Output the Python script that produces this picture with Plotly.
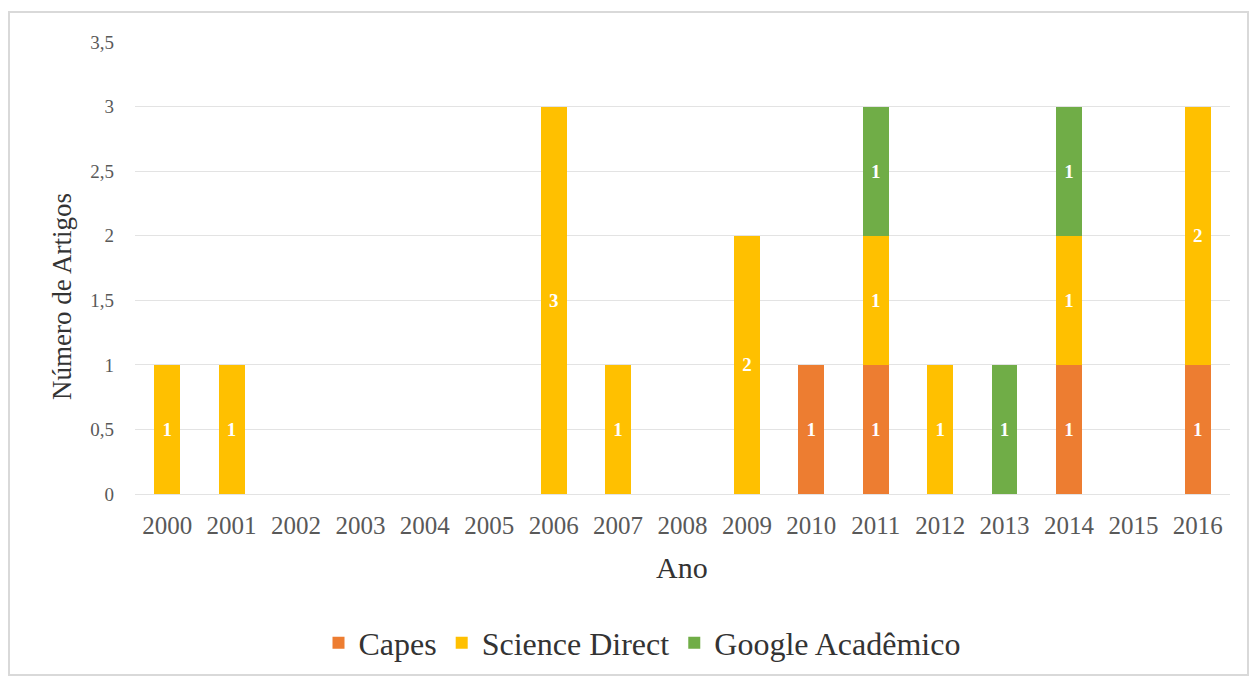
import plotly.graph_objects as go

anos = ["2000", "2001", "2002", "2003", "2004", "2005", "2006", "2007", "2008",
        "2009", "2010", "2011", "2012", "2013", "2014", "2015", "2016"]
capes = [None, None, None, None, None, None, None, None, None,
         None, 1, 1, None, None, 1, None, 1]
science_direct = [1, 1, None, None, None, None, 3, 1, None,
                  2, None, 1, 1, None, 1, None, 2]
google_academico = [None, None, None, None, None, None, None, None, None,
                    None, None, 1, None, 1, 1, None, None]
y_ticks = [0, 0.5, 1, 1.5, 2, 2.5, 3, 3.5]

W, H = 1250, 677
L, R, T, B = 135, 20, 42, 183
pw, ph = W - L - R, H - T - B


def px(x):
    return (x - L) / pw


def py(y):
    return (H - B - y) / ph


FONT = "'Liberation Serif', 'Times New Roman', 'DejaVu Serif', serif"
series = [("Capes", capes, "#ED7D31"),
          ("Science Direct", science_direct, "#FFC000"),
          ("Google Acadêmico", google_academico, "#70AD47")]

fig = go.Figure()
for name, vals, color in series:
    fig.add_trace(go.Bar(
        x=anos, y=vals, name=name, marker=dict(color=color, line=dict(width=0)),
        texttemplate="<b>%{y}</b>", textposition="inside",
        insidetextanchor="middle", textangle=0,
        textfont=dict(family=FONT, size=19, color="white"),
        hoverinfo="x+y+name",
    ))

fig.update_layout(
    width=W, height=H,
    barmode="stack", bargap=0.6,
    separators=",.",
    plot_bgcolor="white", paper_bgcolor="white",
    margin=dict(l=L, r=R, t=T, b=B, autoexpand=False),
    font=dict(family=FONT, color="#595959"),
    uniformtext=dict(minsize=19, mode="show"),
    xaxis=dict(type="category", showgrid=False, showline=False, ticks="",
               tickfont=dict(family=FONT, size=25, color="#595959"),
               ticklabelstandoff=14),
    yaxis=dict(range=[0, 3.5], tickvals=y_ticks, showgrid=True,
               gridcolor="#E3E3E3", gridwidth=1.3, zeroline=True,
               zerolinecolor="#E3E3E3", zerolinewidth=1.3, showline=False,
               ticks="", tickfont=dict(family=FONT, size=19, color="#595959"),
               ticklabelstandoff=20),
    legend=dict(orientation="h", x=px(642), xanchor="center", y=py(643),
                yanchor="middle", font=dict(family=FONT, size=32, color="#333333"),
                itemsizing="constant", traceorder="normal", itemwidth=30,
                bgcolor="rgba(0,0,0,0)"),
    annotations=[
        dict(text="Ano", x=px(682), y=py(567), xref="paper", yref="paper",
             showarrow=False, xanchor="center", yanchor="middle",
             font=dict(family=FONT, size=30, color="#333333")),
        dict(text="Número de Artigos", x=px(62), y=py(297), xref="paper",
             yref="paper", showarrow=False, xanchor="center", yanchor="middle",
             textangle=-90, font=dict(family=FONT, size=27, color="#333333")),
    ],
    shapes=[dict(type="rect", xref="paper", yref="paper", x0=px(9), x1=px(1248),
                 y0=py(675), y1=py(12), line=dict(color="#D9D9D9", width=2),
                 layer="below")],
)

fig.write_html("out.html")
